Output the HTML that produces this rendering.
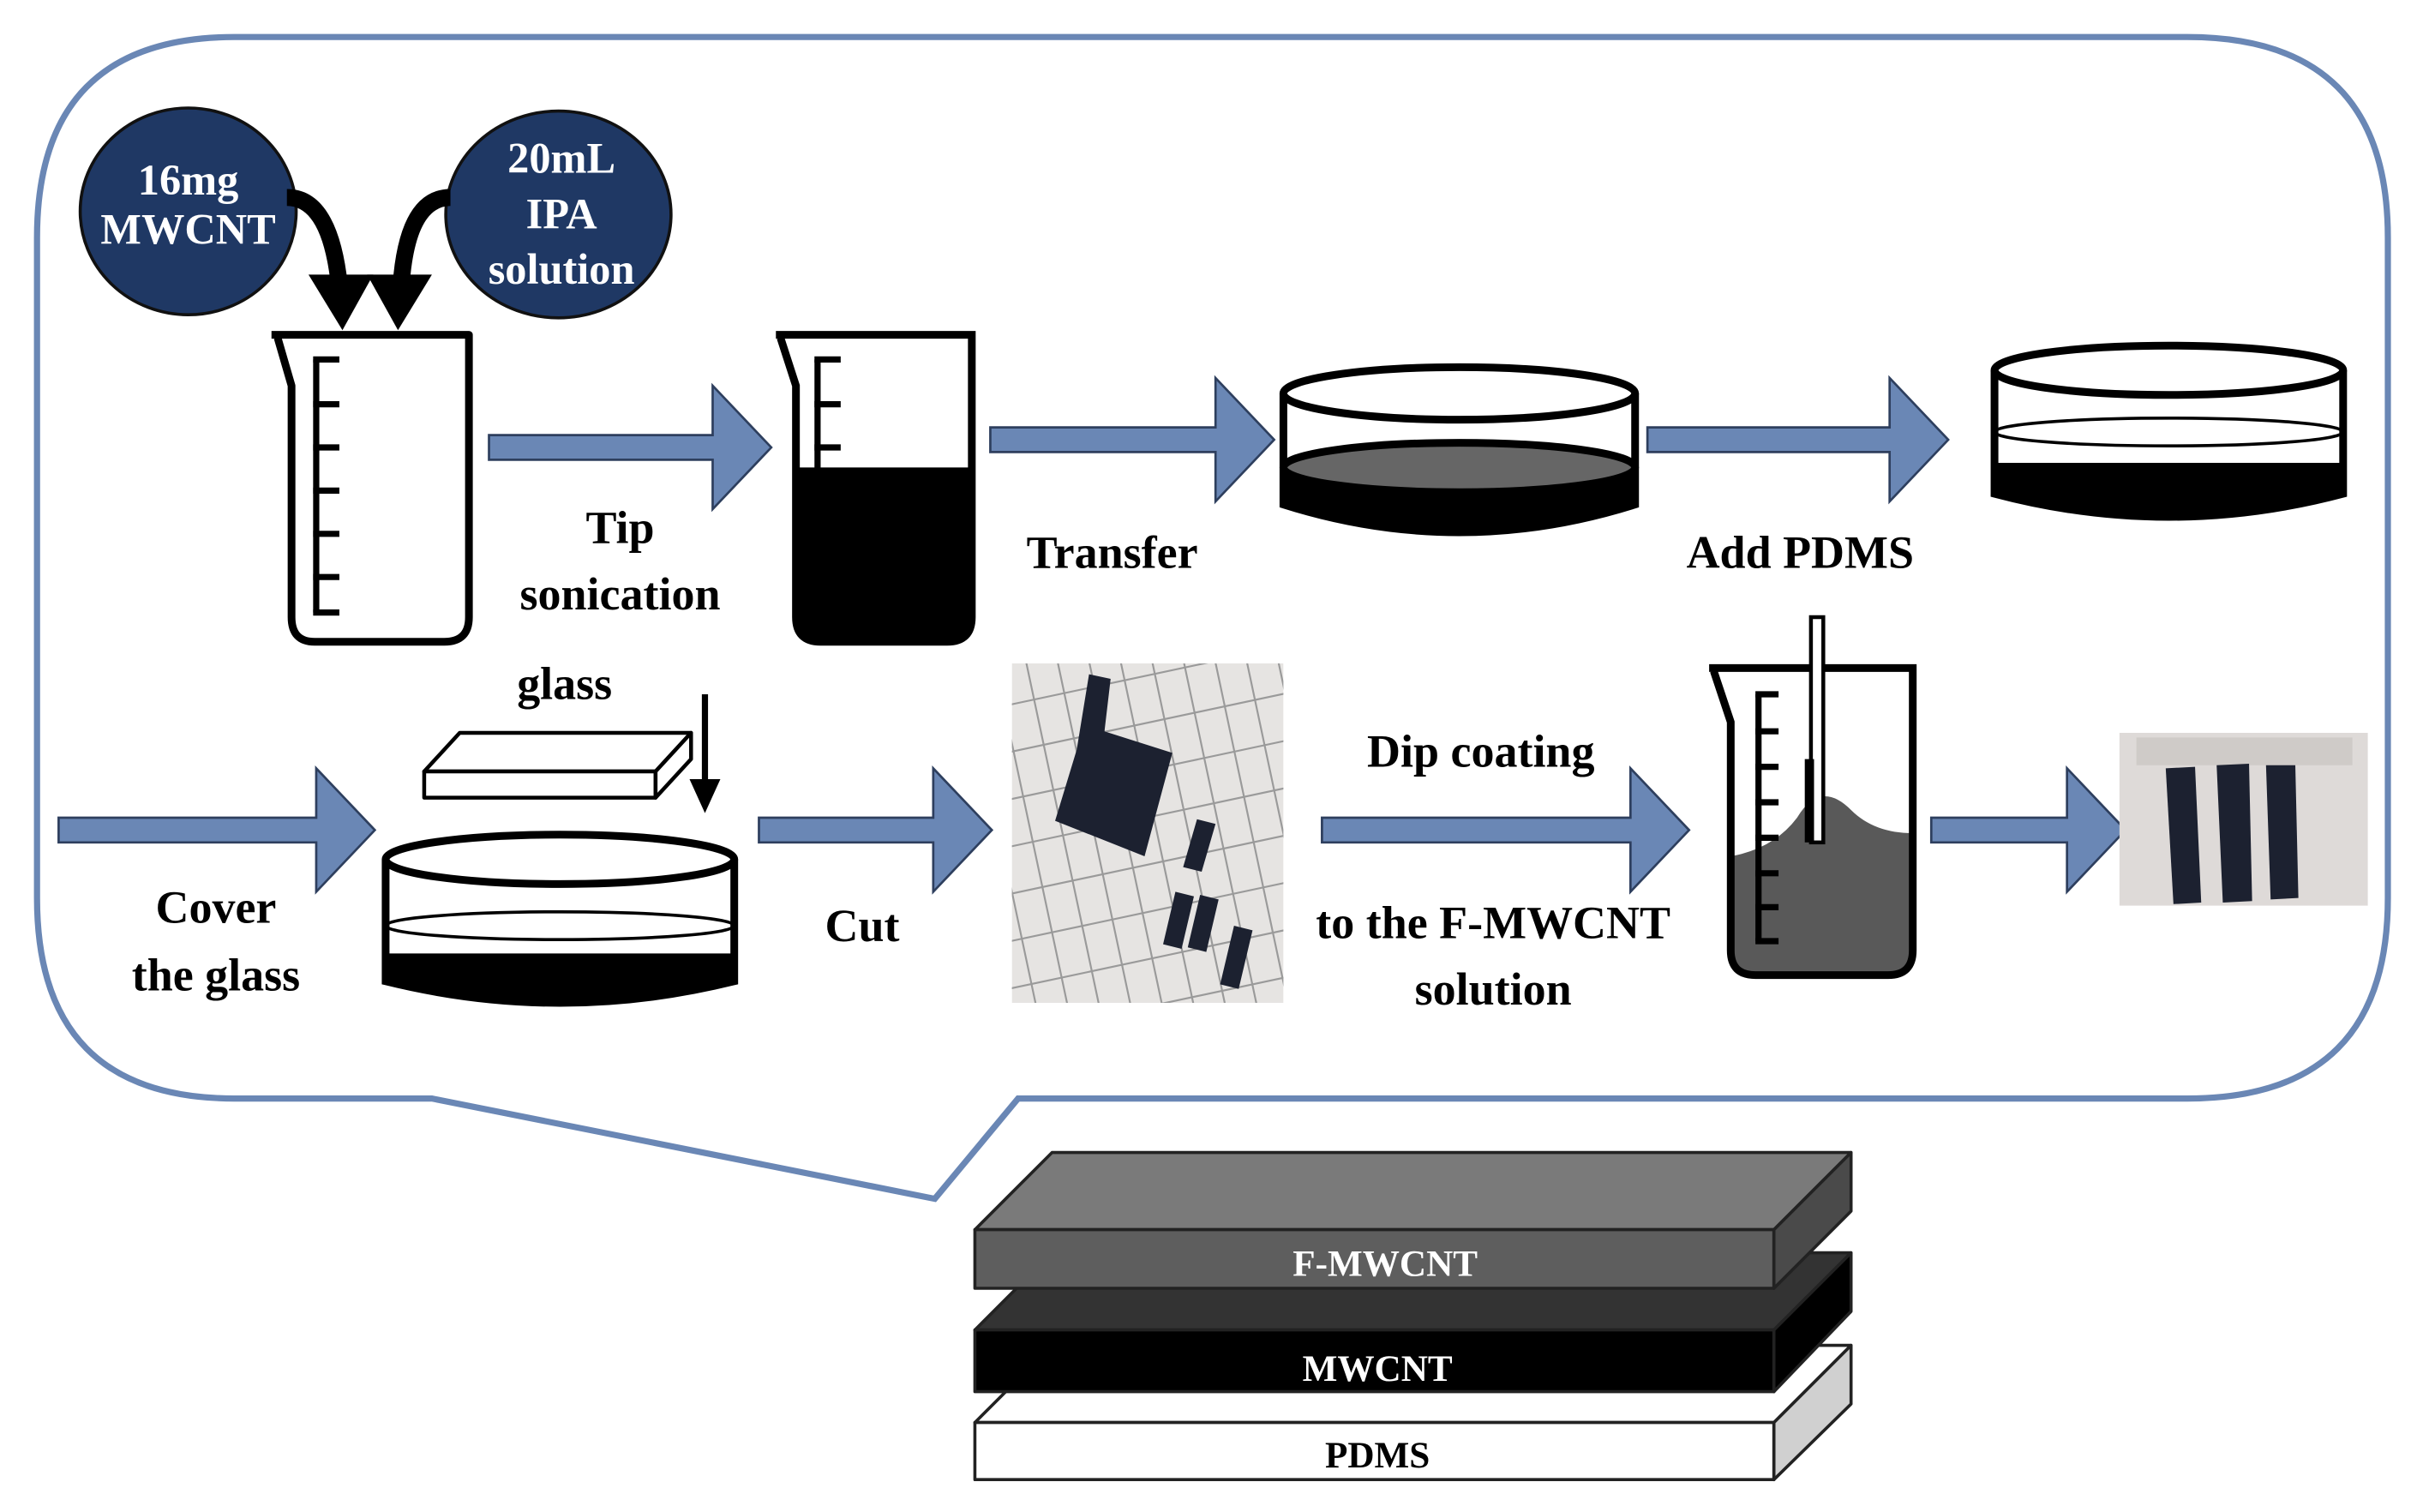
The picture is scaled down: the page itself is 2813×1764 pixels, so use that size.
<!DOCTYPE html>
<html><head><meta charset="utf-8"><style>html,body{margin:0;padding:0;background:#fff}svg{display:block}</style></head>
<body>
<svg width="2813" height="1764" viewBox="0 0 1563 980" preserveAspectRatio="none" xmlns="http://www.w3.org/2000/svg">
<defs>
<clipPath id="c1"><rect x="656" y="430" width="176" height="220"/></clipPath>
</defs>
<rect width="1563" height="980" fill="#fff"/>
<path d="M152,24 H1418 Q1548,24 1548,154 V582 Q1548,712 1418,712 H660 L606,777 L280,712 H152 Q24,712 24,582 V154 Q24,24 152,24 Z" fill="none" stroke="#6a87b5" stroke-width="4"/>
<g font-family="'Liberation Serif',serif" font-weight="bold">
<ellipse cx="122" cy="137" rx="70" ry="67" fill="#1f3864" stroke="#111" stroke-width="2"/>
<ellipse cx="362" cy="139" rx="73" ry="67" fill="#1f3864" stroke="#111" stroke-width="2"/>
<g fill="#fff" font-size="28" text-anchor="middle">
<text x="122" y="126">16mg</text><text x="122" y="158">MWCNT</text>
<text x="364" y="112">20mL</text><text x="364" y="148">IPA</text><text x="364" y="184">solution</text>
</g>
<path d="M186,128 Q214,128 220,185" fill="none" stroke="#000" stroke-width="11"/>
<polygon points="200,178 242,178 222,214" fill="#000"/>
<path d="M292,128 Q264,128 260,185" fill="none" stroke="#000" stroke-width="11"/>
<polygon points="238,178 280,178 258,214" fill="#000"/>
<g fill="none" stroke="#000" stroke-width="5" stroke-linejoin="round">
<path d="M176,217 H304 V400 Q304,416 288,416 H204 Q189,416 189,400 V250 L180,219"/>
</g>
<g stroke="#000" stroke-width="4"><line x1="205" y1="233" x2="205" y2="397"/>
<line x1="203" y1="233" x2="220" y2="233"/><line x1="203" y1="262" x2="220" y2="262"/><line x1="203" y1="290" x2="220" y2="290"/><line x1="203" y1="318" x2="220" y2="318"/><line x1="203" y1="346" x2="220" y2="346"/><line x1="203" y1="374" x2="220" y2="374"/><line x1="203" y1="397" x2="220" y2="397"/></g>
<path d="M514,303 H630 V400 Q630,418 612,418 H532 Q514,418 514,400 Z" fill="#000"/>
<path d="M503,217 H630 V400 Q630,416 614,416 H532 Q516,416 516,400 V250 L506,219" fill="none" stroke="#000" stroke-width="5"/>
<g stroke="#000" stroke-width="4"><line x1="530" y1="233" x2="530" y2="305"/><line x1="528" y1="233" x2="545" y2="233"/><line x1="528" y1="262" x2="545" y2="262"/><line x1="528" y1="290" x2="545" y2="290"/></g>
<g fill="#6a87b5" stroke="#2e3f5e" stroke-width="1.5">
<polygon points="317,282 462,282 462,250 500,290 462,330 462,298 317,298"/>
<polygon points="642,277 788,277 788,245 826,285 788,325 788,293 642,293"/>
<polygon points="1068,277 1225,277 1225,245 1263,285 1225,325 1225,293 1068,293"/>
<polygon points="38,530 205,530 205,498 243,538 205,578 205,546 38,546"/>
<polygon points="492,530 605,530 605,498 643,538 605,578 605,546 492,546"/>
<polygon points="857,530 1057,530 1057,498 1095,538 1057,578 1057,546 857,546"/>
<polygon points="1252,530 1340,530 1340,498 1378,538 1340,578 1340,546 1252,546"/>
</g>
<path d="M832,303 V327 Q946,363 1060,327 V303 Z" fill="#000"/>
<ellipse cx="946" cy="303" rx="114" ry="16" fill="#666" stroke="#000" stroke-width="5"/>
<path d="M832,255 V327 Q946,363 1060,327 V255" fill="none" stroke="#000" stroke-width="5"/>
<ellipse cx="946" cy="255" rx="114" ry="17" fill="none" stroke="#000" stroke-width="5"/>
<path d="M1293,300 V320 Q1406,350 1519,320 V300 Z" fill="#000"/>
<ellipse cx="1406" cy="280" rx="113" ry="9" fill="none" stroke="#000" stroke-width="2"/>
<path d="M1293,240 V320 Q1406,350 1519,320 V240" fill="none" stroke="#000" stroke-width="5"/>
<ellipse cx="1406" cy="240" rx="113" ry="16" fill="none" stroke="#000" stroke-width="5"/>
<path d="M250,618 V636 Q363,664 476,636 V618 Z" fill="#000"/>
<ellipse cx="363" cy="600" rx="113" ry="9" fill="none" stroke="#000" stroke-width="2"/>
<path d="M250,557 V636 Q363,664 476,636 V557" fill="none" stroke="#000" stroke-width="5"/>
<ellipse cx="363" cy="557" rx="113" ry="16" fill="none" stroke="#000" stroke-width="5"/>
<g fill="#fff" stroke="#000" stroke-width="2.5" stroke-linejoin="round">
<polygon points="275,500 298,475 448,475 425,500"/>
<rect x="275" y="500" width="150" height="17"/>
<polygon points="425,500 448,475 448,492 425,517"/>
</g>
<line x1="457" y1="450" x2="457" y2="510" stroke="#000" stroke-width="4"/>
<polygon points="447,505 467,505 457,527" fill="#000"/>
<g clip-path="url(#c1)">
<rect x="656" y="430" width="176" height="220" fill="#e6e4e2"/>
<g stroke="#9a9a9a" stroke-width="1.2" transform="rotate(-12 744 540)">
<line x1="560" y1="440" x2="930" y2="440"/><line x1="560" y1="470" x2="930" y2="470"/><line x1="560" y1="500" x2="930" y2="500"/><line x1="560" y1="530" x2="930" y2="530"/><line x1="560" y1="560" x2="930" y2="560"/><line x1="560" y1="590" x2="930" y2="590"/><line x1="560" y1="620" x2="930" y2="620"/><line x1="560" y1="650" x2="930" y2="650"/><line x1="560" y1="410" x2="930" y2="410"/><line x1="560" y1="680" x2="930" y2="680"/>
<line x1="630" y1="380" x2="630" y2="720"/><line x1="650" y1="380" x2="650" y2="720"/><line x1="670" y1="380" x2="670" y2="720"/><line x1="690" y1="380" x2="690" y2="720"/><line x1="710" y1="380" x2="710" y2="720"/><line x1="730" y1="380" x2="730" y2="720"/><line x1="750" y1="380" x2="750" y2="720"/><line x1="770" y1="380" x2="770" y2="720"/><line x1="790" y1="380" x2="790" y2="720"/><line x1="810" y1="380" x2="810" y2="720"/><line x1="830" y1="380" x2="830" y2="720"/><line x1="850" y1="380" x2="850" y2="720"/><line x1="870" y1="380" x2="870" y2="720"/>
</g>
<g fill="#1c2130">
<polygon points="706,437 720,440 716,474 760,488 742,555 684,532 698,486"/>
<polygon points="776,531 788,534 779,565 767,562"/>
<polygon points="762,578 774,581 766,615 754,612"/>
<polygon points="778,580 790,583 782,617 770,614"/>
<polygon points="800,600 812,603 803,641 791,638"/>
</g>
</g>
<path d="M1122,555 Q1150,550 1165,530 Q1180,505 1200,525 Q1215,540 1240,540 V618 Q1240,632 1226,632 H1136 Q1122,632 1122,618 Z" fill="#595959"/>
<path d="M1108,433 H1240 V616 Q1240,632 1224,632 H1138 Q1122,632 1122,616 V468 L1111,435" fill="none" stroke="#000" stroke-width="5"/>
<g stroke="#000" stroke-width="4"><line x1="1140" y1="450" x2="1140" y2="610"/><line x1="1138" y1="450" x2="1153" y2="450"/><line x1="1138" y1="474" x2="1153" y2="474"/><line x1="1138" y1="497" x2="1153" y2="497"/><line x1="1138" y1="520" x2="1153" y2="520"/><line x1="1138" y1="543" x2="1153" y2="543"/><line x1="1138" y1="566" x2="1153" y2="566"/><line x1="1138" y1="588" x2="1153" y2="588"/><line x1="1138" y1="610" x2="1153" y2="610"/></g>
<rect x="1174" y="400" width="8" height="146" fill="#fff" stroke="#000" stroke-width="2.5"/>
<rect x="1170" y="492" width="6" height="54" fill="#000"/>
<rect x="1374" y="475" width="161" height="112" fill="#dedad8"/>
<rect x="1385" y="478" width="140" height="18" fill="#cfcbc8"/>
<polygon points="1404,498 1423,497 1427,585 1409,586" fill="#1c2130"/>
<polygon points="1437,496 1458,495 1460,584 1441,585" fill="#1c2130"/>
<polygon points="1469,496 1488,496 1490,582 1472,583" fill="#1c2130"/>
<g fill="#000" font-size="30" text-anchor="middle">
<text x="402" y="352">Tip</text><text x="402" y="395">sonication</text>
<text x="721" y="368">Transfer</text>
<text x="1167" y="368">Add PDMS</text>
<text x="366" y="453">glass</text>
<text x="140" y="598">Cover</text><text x="140" y="642">the glass</text>
<text x="559" y="610">Cut</text>
<text x="960" y="497">Dip coating</text>
<text x="968" y="608">to the F-MWCNT</text>
<text x="968" y="651">solution</text>
</g>
<g stroke="#222" stroke-width="2" stroke-linejoin="round">
<polygon points="632,922 682,872 1200,872 1150,922" fill="#fff"/>
<rect x="632" y="922" width="518" height="37" fill="#fff"/>
<polygon points="1150,922 1200,872 1200,910 1150,959" fill="#d0d0d0"/>
<polygon points="632,862 682,812 1200,812 1150,862" fill="#333"/>
<rect x="632" y="862" width="518" height="40" fill="#000"/>
<polygon points="1150,862 1200,812 1200,850 1150,902" fill="#000"/>
<polygon points="632,797 682,747 1200,747 1150,797" fill="#7a7a7a"/>
<rect x="632" y="797" width="518" height="38" fill="#5e5e5e"/>
<polygon points="1150,797 1200,747 1200,785 1150,835" fill="#4a4a4a"/>
</g>
<g font-size="24" text-anchor="middle">
<text x="898" y="827" fill="#fff">F-MWCNT</text>
<text x="893" y="895" fill="#fff">MWCNT</text>
<text x="893" y="951" fill="#000">PDMS</text>
</g>
</g>
</svg>
</body></html>
